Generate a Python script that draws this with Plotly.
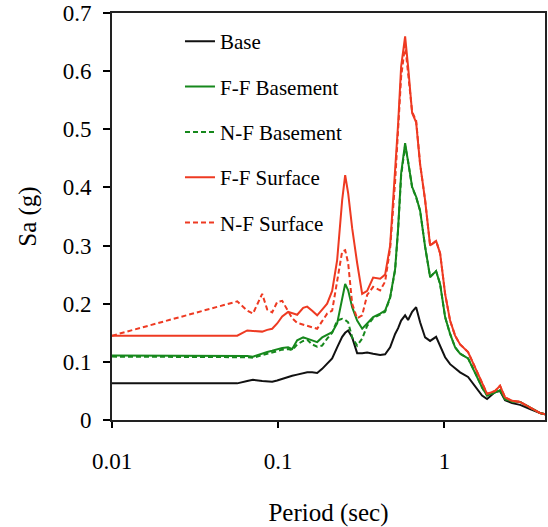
import plotly.graph_objects as go

# Period grid (sec)
period = [0.0100, 0.0567, 0.0651, 0.0705, 0.0801, 0.0859, 0.0920, 0.0986, 0.1057, 0.1148,
          0.1214, 0.1301, 0.1414, 0.1494, 0.1601, 0.1716, 0.1839, 0.1970, 0.2112, 0.2263,
          0.2426, 0.2529, 0.2636, 0.2786, 0.2985, 0.3200, 0.3430, 0.3726, 0.4106, 0.4399,
          0.4715, 0.5053, 0.5268, 0.5491, 0.5803, 0.6048, 0.6394, 0.6759, 0.7143, 0.7655,
          0.8204, 0.8915, 0.9420, 1.010, 1.082, 1.160, 1.243, 1.388, 1.529, 1.685,
          1.806, 2.018, 2.162, 2.317, 2.553, 2.853, 3.275, 3.763, 4.030]

sa_base = [0.063, 0.063, 0.067, 0.069, 0.067, 0.066, 0.066, 0.068, 0.071, 0.074,
           0.076, 0.078, 0.080, 0.082, 0.082, 0.081, 0.088, 0.097, 0.106, 0.125,
           0.143, 0.150, 0.154, 0.142, 0.115, 0.115, 0.116, 0.114, 0.112, 0.113,
           0.125, 0.148, 0.158, 0.171, 0.180, 0.172, 0.186, 0.194, 0.168, 0.142,
           0.136, 0.143, 0.128, 0.108, 0.096, 0.089, 0.082, 0.074, 0.058, 0.042,
           0.036, 0.048, 0.050, 0.034, 0.029, 0.026, 0.019, 0.012, 0.010]

sa_ff_basement = [0.111, 0.111, 0.110, 0.109, 0.115, 0.117, 0.119, 0.122, 0.124, 0.125,
                  0.122, 0.137, 0.142, 0.140, 0.137, 0.134, 0.142, 0.146, 0.151, 0.166,
                  0.211, 0.234, 0.223, 0.194, 0.171, 0.157, 0.166, 0.177, 0.183, 0.188,
                  0.211, 0.260, 0.330, 0.424, 0.476, 0.447, 0.401, 0.384, 0.360, 0.298,
                  0.246, 0.256, 0.234, 0.177, 0.148, 0.125, 0.114, 0.106, 0.082, 0.056,
                  0.042, 0.048, 0.051, 0.036, 0.032, 0.031, 0.021, 0.012, 0.010]

sa_nf_basement = [0.109, 0.109, 0.108, 0.107, 0.112, 0.114, 0.116, 0.118, 0.121, 0.122,
                  0.120, 0.130, 0.136, 0.138, 0.130, 0.126, 0.128, 0.140, 0.150, 0.171,
                  0.174, 0.172, 0.168, 0.142, 0.128, 0.140, 0.162, 0.175, 0.182, 0.186,
                  0.210, 0.258, 0.328, 0.420, 0.472, 0.445, 0.400, 0.383, 0.360, 0.298,
                  0.246, 0.256, 0.234, 0.177, 0.148, 0.125, 0.114, 0.106, 0.082, 0.056,
                  0.042, 0.048, 0.051, 0.036, 0.032, 0.031, 0.021, 0.012, 0.010]

sa_ff_surface = [0.145, 0.145, 0.154, 0.153, 0.152, 0.155, 0.157, 0.166, 0.178, 0.186,
                 0.184, 0.181, 0.193, 0.195, 0.188, 0.180, 0.190, 0.200, 0.222, 0.275,
                 0.378, 0.421, 0.390, 0.330, 0.270, 0.217, 0.222, 0.245, 0.243, 0.250,
                 0.300, 0.420, 0.510, 0.608, 0.660, 0.608, 0.528, 0.512, 0.440, 0.378,
                 0.300, 0.308, 0.287, 0.217, 0.171, 0.145, 0.130, 0.117, 0.090, 0.062,
                 0.045, 0.050, 0.059, 0.039, 0.033, 0.031, 0.022, 0.012, 0.010]

sa_nf_surface = [0.145, 0.204, 0.188, 0.183, 0.217, 0.190, 0.185, 0.203, 0.205, 0.186,
                 0.175, 0.167, 0.164, 0.163, 0.160, 0.157, 0.170, 0.183, 0.188, 0.240,
                 0.290, 0.292, 0.270, 0.200, 0.175, 0.180, 0.215, 0.229, 0.223, 0.238,
                 0.295, 0.410, 0.500, 0.590, 0.645, 0.600, 0.530, 0.515, 0.440, 0.378,
                 0.300, 0.308, 0.287, 0.217, 0.171, 0.145, 0.130, 0.117, 0.090, 0.062,
                 0.045, 0.050, 0.059, 0.039, 0.033, 0.031, 0.022, 0.012, 0.010]

names = ["Base", "F-F Basement", "N-F Basement", "F-F Surface", "N-F Surface"]
series = [sa_base, sa_ff_basement, sa_nf_basement, sa_ff_surface, sa_nf_surface]
colors = ["#111111", "#16881c", "#16881c", "#ee3a22", "#ee3a22"]
dashes = ["solid", "solid", "5px,3px", "solid", "5px,3px"]

x_tick_vals = [0.01, 0.1, 1]
x_tick_text = ["0.01", "0.1", "1"]
y_tick_vals = [0, 0.1, 0.2, 0.3, 0.4, 0.5, 0.6, 0.7]

FONT = "Liberation Serif"

fig = go.Figure()
for i, (nm, ys) in enumerate(zip(names, series)):
    fig.add_trace(go.Scatter(
        x=period, y=ys, mode="lines", name=nm, legendgroup=f"g{i}",
        line=dict(color=colors[i], width=2, dash=dashes[i]),
    ))

fig.update_layout(
    width=548, height=527,
    margin=dict(l=112, r=3, t=13, b=107, autoexpand=False),
    paper_bgcolor="white", plot_bgcolor="white",
    font=dict(family=FONT, color="black"),
    showlegend=True,
    legend=dict(
        x=0.157, y=0.98, xanchor="left", yanchor="top",
        bgcolor="rgba(0,0,0,0)", font=dict(family=FONT, size=21, color="black"),
        tracegroupgap=15, itemwidth=30,
    ),
)

fig.update_xaxes(
    type="log", range=[-2, 0.6053], automargin=False,
    tickvals=x_tick_vals, ticktext=x_tick_text,
    ticks="outside", ticklen=6, tickwidth=1.5, tickcolor="black",
    showline=True, linecolor="#222222", linewidth=2, mirror=True,
    showgrid=False, zeroline=False,
    tickfont=dict(family=FONT, size=23, color="black"),
    ticklabelstandoff=13, ticklabeloverflow="allow",
    title=dict(text="Period (sec)", font=dict(family=FONT, size=25, color="black"), standoff=32),
)
fig.update_yaxes(
    range=[0, 0.7], tickvals=y_tick_vals, automargin=False,
    ticks="outside", ticklen=7, tickwidth=1.5, tickcolor="black",
    showline=True, linecolor="#222222", linewidth=2, mirror=True,
    showgrid=False, zeroline=False,
    tickfont=dict(family=FONT, size=23, color="black"),
    ticklabelstandoff=7, ticklabeloverflow="allow",
    title=dict(text="Sa (g)", font=dict(family=FONT, size=25, color="black"), standoff=19),
)

# remove the default 8px page margin so the 548x527 figure fills the window
fig.write_html("out.html", config={"displayModeBar": False},
               post_script="document.body.style.margin='0';")
